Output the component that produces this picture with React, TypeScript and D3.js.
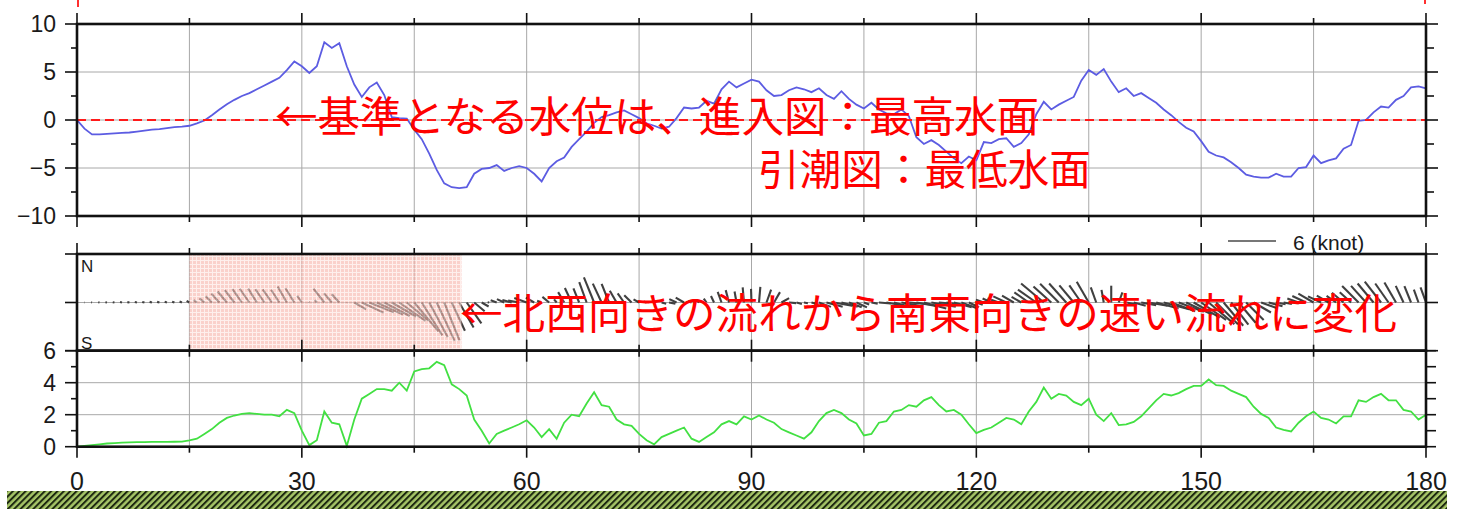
import React, { useEffect, useRef } from 'react'
import * as d3 from 'd3'

// one value per minute, 0 .. 180
const waterLevel = [
  0, -0.9, -1.5, -1.5, -1.45, -1.4, -1.35, -1.3, -1.2, -1.1,
  -1.0, -0.95, -0.85, -0.75, -0.7, -0.6, -0.35, -0.05, 0.5, 1.1,
  1.65, 2.1, 2.5, 2.8, 3.2, 3.6, 4.0, 4.4, 5.2, 6.1,
  5.6, 4.9, 5.6, 8.1, 7.5, 8.0, 5.6, 3.7, 2.4, 3.4,
  3.9, 2.6, 0.3, 0.2, 0.15, -1.0, -2.0, -3.5, -5.2, -6.6,
  -7.0, -7.1, -7.0, -5.6, -5.1, -5.0, -4.7, -5.3, -5.0, -4.8,
  -5.0, -5.6, -6.4, -5.0, -4.3, -3.9, -2.8, -2.0, -1.2, -0.3,
  0.3, 0.5, 0.8, 1.0, 0.6, 0.2, -0.35, -0.6, -0.9, -0.7,
  0.2, 1.3, 1.2, 1.3, 2.0, 1.7, 3.2, 4.0, 3.4, 3.8,
  4.2, 4.0, 3.1, 2.5, 2.6, 3.1, 3.4, 3.2, 2.9, 3.3,
  2.6, 2.2, 3.0, 2.2, 1.6, 1.2, 1.8, 1.1, 0.7, 0.6,
  1.1, 0.4, -1.8, -2.5, -2.1, -2.6, -3.3, -4.0, -4.5, -3.8,
  -4.2, -2.3, -2.4, -2.0, -1.9, -2.8, -2.4, -1.5, 0.6, 1.9,
  1.1, 1.6, 2.0, 2.4, 4.1, 5.2, 4.7, 5.3, 4.0, 2.9,
  3.3, 2.5, 2.8, 2.3, 1.8, 1.1, 0.5, -0.2, -0.8, -1.2,
  -2.2, -3.3, -3.7, -3.9, -4.4, -5.0, -5.7, -5.9, -6.0, -6.0,
  -5.6, -5.9, -5.9, -5.0, -4.9, -3.7, -4.5, -4.2, -4.0, -3.0,
  -2.6, -0.1, 0.0, 0.8, 1.4, 1.3, 2.1, 2.5, 3.4, 3.5,
  3.3,
]

// current speed (knot)
const currentSpeed = [
  0, 0.05, 0.1, 0.15, 0.2, 0.22, 0.25, 0.27, 0.28, 0.29,
  0.3, 0.3, 0.3, 0.31, 0.32, 0.4, 0.5, 0.8, 1.1, 1.5,
  1.8, 1.95, 2.05, 2.1, 2.05, 2.0, 2.0, 1.9, 2.3, 2.1,
  1.0, 0.1, 0.4, 2.2, 1.5, 1.4, 0.05, 1.7, 3.0, 3.3,
  3.6, 3.6, 3.5, 4.0, 3.5, 4.7, 4.85, 4.9, 5.3, 5.1,
  3.9, 3.6, 3.2, 1.7, 1.0, 0.2, 0.8, 1.0, 1.2, 1.4,
  1.65, 1.2, 0.6, 1.1, 0.5, 1.5, 2.0, 1.9, 2.7, 3.4,
  2.6, 2.5, 1.7, 1.4, 1.3, 0.8, 0.4, 0.15, 0.6, 0.8,
  1.0, 1.2, 0.5, 0.3, 0.6, 0.9, 1.4, 1.6, 1.4, 1.9,
  1.7, 1.95, 1.7, 1.5, 1.1, 0.9, 0.7, 0.5, 0.9, 1.6,
  2.1, 2.3, 2.1, 1.7, 1.45, 0.7, 0.8, 1.5, 1.6, 2.2,
  2.3, 2.6, 2.5, 2.9, 3.1, 2.6, 2.2, 2.3, 2.0, 1.4,
  0.85, 1.05, 1.2, 1.5, 1.8, 1.7, 1.4, 2.2, 2.8, 3.7,
  3.0, 3.3, 3.2, 2.8, 2.6, 3.0, 2.0, 1.6, 2.1, 1.35,
  1.4, 1.55, 1.9, 2.4, 2.9, 3.3, 3.2, 3.35, 3.6, 3.8,
  3.8, 4.2, 3.85, 3.8, 3.5, 3.3, 3.1, 2.5, 2.05, 1.8,
  1.2, 1.05, 0.95, 1.5, 1.9, 2.2, 1.8, 1.7, 1.45, 1.9,
  1.9, 2.9, 2.8, 3.1, 3.3, 2.9, 2.9, 2.3, 2.2, 1.7,
  2.0,
]

// current direction (degrees, toward, 0 = N)
const currentDir = [
  280, 280, 282, 280, 278, 280, 282, 280, 282, 285,
  285, 285, 288, 290, 292, 300, 305, 310, 315, 318,
  320, 322, 325, 325, 328, 326, 325, 327, 330, 328,
  325, 320, 318, 322, 320, 318, 200, 120, 115, 112,
  115, 118, 120, 125, 130, 140, 148, 152, 155, 158,
  155, 150, 145, 130, 120, 280, 290, 295, 285, 280,
  290, 300, 290, 310, 320, 330, 335, 338, 340, 338,
  335, 338, 330, 325, 315, 300, 290, 110, 105, 100,
  295, 300, 290, 310, 325, 335, 340, 345, 350, 355,
  358, 5, 20, 30, 60, 95, 105, 100, 105, 110,
  105, 100, 105, 110, 115, 110, 100, 95, 100, 105,
  100, 95, 100, 105, 100, 95, 100, 105, 110, 115,
  110, 290, 295, 290, 295, 300, 300, 305, 305, 310,
  312, 315, 318, 320, 325, 330, 340, 350, 0, 20,
  100, 105, 100, 100, 105, 105, 110, 110, 115, 120,
  125, 130, 135, 140, 142, 140, 135, 120, 110, 105,
  100, 100, 95, 290, 295, 300, 295, 300, 305, 310,
  312, 315, 318, 320, 322, 325, 330, 335, 338, 340,
  340,
]

const xTicks = [0, 30, 60, 90, 120, 150, 180]
const levelTicks = [10, 5, 0, -5, -10]
const speedTicks = [0, 2, 4, 6]
const legendKnot = 6
const shadeRange = [15, 51.3]
const noteLevel1 = '←基準となる水位は、進入図：最高水面'
const noteLevel2 = '引潮図：最低水面'
const noteCurrent = '←北西向きの流れから南東向きの速い流れに変化'

const App = () => {
  const svgRef = useRef<SVGSVGElement>(null)

  useEffect(() => {
    const svg = d3.select(svgRef.current)
    svg.selectAll('*').remove()

    const left = 77
    const right = 1426
    const x = d3.scaleLinear().domain([0, 180]).range([left, right])
    const yLevel = d3.scaleLinear().domain([-10, 10]).range([216, 24])
    const ySpeed = d3.scaleLinear().domain([0, 6]).range([446.7, 350.7])
    const stickTop = 254
    const stickBottom = 350.7
    const stickMid = 302.5
    const knotPx = 8
    const minutes = d3.range(0, 181)
    const numFont = 'Liberation Sans, Arial, sans-serif'
    const jpFont = 'Noto Sans CJK JP, sans-serif'
    const minus = (v: number) => (v < 0 ? '\u2212' + Math.abs(v) : String(v))

    const defs = svg.append('defs')
    const hatch = defs
      .append('pattern')
      .attr('id', 'hatch')
      .attr('width', 4.5)
      .attr('height', 4.5)
      .attr('patternUnits', 'userSpaceOnUse')
      .attr('patternTransform', 'rotate(45)')
    hatch.append('rect').attr('width', 4.5).attr('height', 4.5).attr('fill', '#a6c568')
    hatch.append('rect').attr('width', 2).attr('height', 4.5).attr('fill', '#1d2810')

    const pink = defs
      .append('pattern')
      .attr('id', 'pinkgrid')
      .attr('width', 4)
      .attr('height', 4)
      .attr('patternUnits', 'userSpaceOnUse')
    pink.append('rect').attr('width', 4).attr('height', 4).attr('fill', '#f7b2a8')
    pink
      .append('path')
      .attr('d', 'M0 0.5H4M0.5 0V4')
      .attr('stroke', '#fde4df')
      .attr('stroke-width', 1)

    svg.append('rect').attr('width', 1469).attr('height', 509).attr('fill', '#fff')

    const panels = [
      { top: 24, bottom: 216 },
      { top: stickTop, bottom: stickBottom },
      { top: 350.7, bottom: 446.7 },
    ]

    // grid
    const grid = svg.append('g').attr('stroke', '#a8a8a8').attr('stroke-width', 1)
    panels.forEach((p) => {
      d3.range(15, 180, 15).forEach((t) => {
        grid.append('line').attr('x1', x(t)).attr('x2', x(t)).attr('y1', p.top).attr('y2', p.bottom)
      })
    })
    ;[-5, 0, 5].forEach((v) => {
      grid.append('line').attr('x1', left).attr('x2', right).attr('y1', yLevel(v)).attr('y2', yLevel(v))
    })
    ;[2, 4].forEach((v) => {
      grid.append('line').attr('x1', left).attr('x2', right).attr('y1', ySpeed(v)).attr('y2', ySpeed(v))
    })
    grid.append('line').attr('x1', left).attr('x2', right).attr('y1', stickMid).attr('y2', stickMid)

    // current sticks
    svg
      .append('g')
      .selectAll('line')
      .data(minutes)
      .enter()
      .append('line')
      .attr('x1', (t) => x(t))
      .attr('y1', stickMid)
      .attr('x2', (t) => x(t) + currentSpeed[t] * knotPx * Math.sin((currentDir[t] * Math.PI) / 180))
      .attr('y2', (t) => stickMid - currentSpeed[t] * knotPx * Math.cos((currentDir[t] * Math.PI) / 180))
      .attr('stroke', '#404040')
      .attr('stroke-width', 2.1)

    // shaded period
    svg
      .append('rect')
      .attr('x', x(shadeRange[0]))
      .attr('y', stickTop)
      .attr('width', x(shadeRange[1]) - x(shadeRange[0]))
      .attr('height', stickBottom - stickTop)
      .attr('fill', 'url(#pinkgrid)')
      .attr('opacity', 0.6)

    // water level line
    svg
      .append('path')
      .datum(minutes)
      .attr('d', d3.line<number>().x((t) => x(t)).y((t) => yLevel(waterLevel[t])))
      .attr('fill', 'none')
      .attr('stroke', '#5c5ce2')
      .attr('stroke-width', 1.8)

    // speed line
    svg
      .append('path')
      .datum(minutes)
      .attr('d', d3.line<number>().x((t) => x(t)).y((t) => ySpeed(currentSpeed[t])))
      .attr('fill', 'none')
      .attr('stroke', '#42e042')
      .attr('stroke-width', 1.8)

    // reference level
    svg
      .append('line')
      .attr('x1', left)
      .attr('x2', right)
      .attr('y1', yLevel(0))
      .attr('y2', yLevel(0))
      .attr('stroke', '#ff1a1a')
      .attr('stroke-width', 1.8)
      .attr('stroke-dasharray', '9 5')
    svg.append('line').attr('x1', left + 1).attr('x2', left + 1).attr('y1', 0).attr('y2', 7).attr('stroke', '#ff3030').attr('stroke-width', 2)
    svg.append('line').attr('x1', right - 1).attr('x2', right - 1).attr('y1', 0).attr('y2', 4).attr('stroke', '#ff3030').attr('stroke-width', 2)

    // frames and ticks
    const ax = svg.append('g').attr('stroke', '#111').attr('stroke-width', 1.6)
    panels.forEach((p) => {
      d3.range(0, 181, 15).forEach((t) => {
        const len = t % 30 === 0 ? 11 : 6
        ax.append('line').attr('x1', x(t)).attr('x2', x(t)).attr('y1', p.top).attr('y2', p.top - len)
        ax.append('line').attr('x1', x(t)).attr('x2', x(t)).attr('y1', p.bottom).attr('y2', p.bottom + len)
      })
    })
    d3.range(-10, 10.1, 2.5).forEach((v) => {
      const len = v % 5 === 0 ? 12 : 6
      ax.append('line').attr('x1', left).attr('x2', left - len).attr('y1', yLevel(v)).attr('y2', yLevel(v))
      ax.append('line').attr('x1', right).attr('x2', right + (v % 5 === 0 ? 12 : 8)).attr('y1', yLevel(v)).attr('y2', yLevel(v))
    })
    ;[stickTop, stickMid, stickBottom].forEach((y) => {
      ax.append('line').attr('x1', left).attr('x2', left - 12).attr('y1', y).attr('y2', y)
      ax.append('line').attr('x1', right).attr('x2', right + 12).attr('y1', y).attr('y2', y)
    })
    d3.range(0, 7).forEach((v) => {
      ax.append('line').attr('x1', left).attr('x2', left - (v % 2 === 0 ? 12 : 6)).attr('y1', ySpeed(v)).attr('y2', ySpeed(v))
      ax.append('line').attr('x1', right).attr('x2', right + 10).attr('y1', ySpeed(v)).attr('y2', ySpeed(v))
    })
    panels.forEach((p) => {
      svg
        .append('rect')
        .attr('x', left)
        .attr('y', p.top)
        .attr('width', right - left)
        .attr('height', p.bottom - p.top)
        .attr('fill', 'none')
        .attr('stroke', '#111')
        .attr('stroke-width', 2.6)
    })

    // labels
    const lab = svg.append('g').attr('font-family', numFont).attr('fill', '#1a1a1a')
    levelTicks.forEach((v) => {
      lab.append('text').attr('x', 56).attr('y', yLevel(v)).attr('dy', '0.36em').attr('text-anchor', 'end').attr('font-size', 23).text(minus(v))
    })
    speedTicks.forEach((v) => {
      lab.append('text').attr('x', 56).attr('y', ySpeed(v)).attr('dy', '0.36em').attr('text-anchor', 'end').attr('font-size', 23).text(v)
    })
    xTicks.forEach((t) => {
      lab.append('text').attr('x', x(t)).attr('y', 481).attr('dy', '0.36em').attr('text-anchor', 'middle').attr('font-size', 25).text(t)
    })
    lab.append('text').attr('x', 81).attr('y', 266).attr('dy', '0.36em').attr('font-size', 17).text('N')
    lab.append('text').attr('x', 81).attr('y', 343).attr('dy', '0.36em').attr('font-size', 17).text('S')

    // legend
    svg
      .append('line')
      .attr('x1', 1228)
      .attr('x2', 1228 + legendKnot * knotPx)
      .attr('y1', 241)
      .attr('y2', 241)
      .attr('stroke', '#777')
      .attr('stroke-width', 2)
    lab.append('text').attr('x', 1293).attr('y', 242).attr('dy', '0.36em').attr('font-size', 21).text(`${legendKnot} (knot)`)

    // bottom strip
    svg.append('rect').attr('x', 7).attr('y', 491).attr('width', 1440).attr('height', 18).attr('fill', 'url(#hatch)')

    // annotations (the two level lines form one two-line note)
    const note = svg.append('g').attr('font-family', jpFont).attr('fill', '#ff0000').attr('font-size', 42)
    const levelNote = note.append('text')
    levelNote.append('tspan').attr('x', 275).attr('y', 132).attr('textLength', 764).attr('lengthAdjust', 'spacingAndGlyphs').text(noteLevel1)
    levelNote.append('tspan').attr('x', 758).attr('y', 185).attr('textLength', 333).attr('lengthAdjust', 'spacingAndGlyphs').text(noteLevel2)
    note.append('text').attr('x', 460).attr('y', 329).attr('textLength', 937).attr('lengthAdjust', 'spacingAndGlyphs').text(noteCurrent)
  }, [])

  return (
    <svg
      ref={svgRef}
      width={1469}
      height={509}
      style={{ position: 'absolute', left: 0, top: 0, display: 'block' }}
    ></svg>
  )
}

export default App
